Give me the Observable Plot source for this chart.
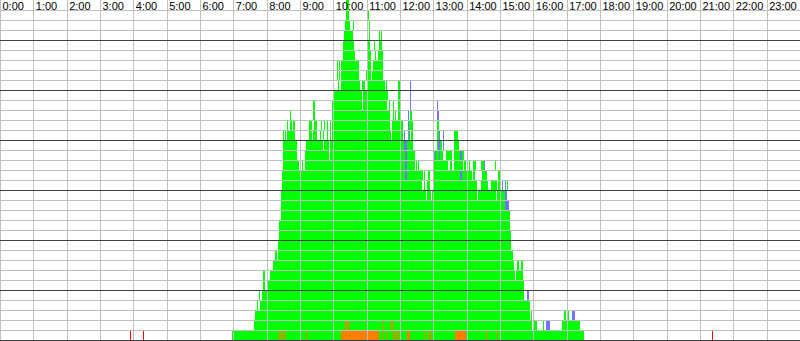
<!DOCTYPE html>
<html><head><meta charset="utf-8">
<script src="https://cdn.jsdelivr.net/npm/d3@7"></script>
<script src="https://cdn.jsdelivr.net/npm/@observablehq/plot@0.6"></script>
<style>
html,body{margin:0;padding:0;background:#fff;overflow:hidden;}
#chart svg{display:block;}
</style></head><body><div id="chart"></div>
<script>
// hour tick labels
const hourLabels = ["0:00","1:00","2:00","3:00","4:00","5:00","6:00","7:00","8:00","9:00","10:00","11:00",
  "12:00","13:00","14:00","15:00","16:00","17:00","18:00","19:00","20:00","21:00","22:00","23:00"];
const hourMinutes = hourLabels.map((d, i) => i * 60);

// green occupancy per row (row 1 = bottom), intervals in minutes since midnight
const greenRows = [
  /*1*/  [[418,1051]],
  /*2*/  [[457,958],[961,967],[977,979],[1012,1044]],
  /*3*/  [[459,954],[956,958],[1015,1019],[1021,1024]],
  /*4*/  [[463,464],[468,954]],
  /*5*/  [[466,468],[472,943]],
  /*6*/  [[473,477],[481,943]],
  /*7*/  [[473,477],[486,927],[929,941]],
  /*8*/  [[491,925],[931,934],[938,941]],
  /*9*/  [[495,499],[500,923]],
  /*10*/ [[500,920]],
  /*11*/ [[502,920]],
  /*12*/ [[502,918]],
  /*13*/ [[506,918]],
  /*14*/ [[506,909]],
  /*15*/ [[506,767],[769,776],[778,859],[860,893],[895,909]],
  /*16*/ [[508,760],[763,765],[769,774],[779,841],[842,859],[866,878],[884,895],[896,902],[913,914]],
  /*17*/ [[508,729],[733,761],[763,765],[770,774],[779,828],[832,841],[842,850],[851,855],[868,877],[896,902]],
  /*18*/ [[509,538],[544,545],[549,729],[733,747],[749,751],[752,754],[779,806],[810,814],[817,833],[835,839],[844,846],[851,857],[866,871],[891,893]],
  /*19*/ [[509,535],[549,592],[594,729],[733,747],[779,783],[785,790],[792,797],[803,814],[817,828],[832,835]],
  /*20*/ [[509,535],[551,581],[583,592],[594,727],[733,743],[787,788],[792,796],[817,826]],
  /*21*/ [[509,511],[513,515],[517,531],[556,562],[563,571],[576,578],[581,583],[589,590],[594,596],[598,704],[706,725],[734,736],[740,743],[787,790],[817,824]],
  /*22*/ [[517,518],[522,526],[527,531],[556,562],[565,571],[578,580],[583,585],[589,590],[594,596],[598,702],[706,725],[736,743],[787,790]],
  /*23*/ [[522,524],[563,567],[598,702],[707,709],[711,713],[716,720],[738,742]],
  /*24*/ [[563,567],[598,652],[653,697],[700,702],[707,709],[716,720]],
  /*25*/ [[599,652],[653,698],[716,720]],
  /*26*/ [[608,610],[614,648],[652,657],[661,693],[695,697],[716,720]],
  /*27*/ [[607,608],[610,612],[614,646],[659,668],[670,689]],
  /*28*/ [[607,608],[610,612],[614,646],[661,668],[671,689]],
  /*29*/ [[617,639],[662,668],[675,677],[680,689]],
  /*30*/ [[617,637],[662,666],[673,675],[682,688]],
  /*31*/ [[619,635],[664,666],[682,684],[686,688]],
  /*32*/ [[621,630],[635,637],[664,666]],
  /*33*/ [[623,628],[662,664]],
  /*34*/ [[623,628]]
];

// blue segments: [row, start, end]
const blueSegs = [
  [2,983,990],[3,1030,1035],[5,949,952],[14,909,916],[15,909,913],
  [16,904,905],[16,909,911],
  [17,729,733],[17,828,832],
  [18,729,733],[18,871,873],
  [19,729,733],[19,783,785],[19,790,792],[19,828,832],
  [20,727,733],[20,788,792],[20,797,799],
  [21,727,729],[21,736,738],[21,790,792],[21,797,799],
  [22,734,736],
  [23,734,736],[23,787,790],
  [24,738,740],[24,787,788],
  [25,738,740],[26,738,740]
];

// orange segments: [row, start, end]
const orangeSegs = [
  [1,502,504],[1,506,508],[1,509,511],[1,513,515],[1,551,553],[1,614,682],
  [1,688,689],[1,697,698],[1,706,707],[1,709,711],[1,715,718],[1,733,738],
  [1,765,767],[1,772,776],[1,819,839],[1,877,878],[1,895,896],
  [2,619,621],[2,625,626],[2,628,630],[2,688,689],[2,704,706],[2,707,709]
];

// red single events in the bottom row (minutes)
const redTicks = [234, 257, 1282];

// grid rows
const thinRows = d3.range(1, 34).filter(v => v % 5 !== 0);
const thickRows = [0, 5, 10, 15, 20, 25, 30];

const greenCells = greenRows.flatMap((segs, i) => segs.map(([s, e]) => ({row: i + 1, s, e})));
const blueCells = blueSegs.map(([row, s, e]) => ({row, s, e}));
const orangeCells = orangeSegs.map(([row, s, e]) => ({row, s, e}));

const cellOpts = (fill) => ({x1: "s", x2: "e", y1: d => d.row - 1, y2: "row", fill, shapeRendering: "crispEdges"});

const chart = Plot.plot({
  width: 800,
  height: 341,
  margin: 0,
  style: {fontFamily: "'Liberation Sans', Arial, sans-serif", fontSize: "11px", background: "#fff"},
  x: {domain: [0, 1440], range: [0, 800], axis: null},
  y: {domain: [0, 34], range: [340, 0], axis: null},
  marks: [
    Plot.rect(greenCells, cellOpts("#00ff00")),
    Plot.rect(blueCells, cellOpts("#7373ff")),
    Plot.rect(orangeCells, cellOpts("#ff8000")),
    Plot.ruleX(redTicks, {y1: 0, y2: 0.95, stroke: "#ff0000", shapeRendering: "crispEdges"}),
    Plot.ruleX(hourMinutes, {y1: 0, y2: 34, stroke: "#c0c0c0", shapeRendering: "crispEdges"}),
    Plot.ruleY(thinRows, {stroke: "#c0c0c0", shapeRendering: "crispEdges"}),
    Plot.ruleY(thickRows, {stroke: "#404040", shapeRendering: "crispEdges"}),
    Plot.text(hourMinutes, {x: d => d, y: 34, text: (d, i) => hourLabels[i], textAnchor: "start", dx: 2, dy: 5.5, fill: "#000", fontSize: 11})
  ]
});
document.getElementById("chart").appendChild(chart);
</script>
</body></html>
